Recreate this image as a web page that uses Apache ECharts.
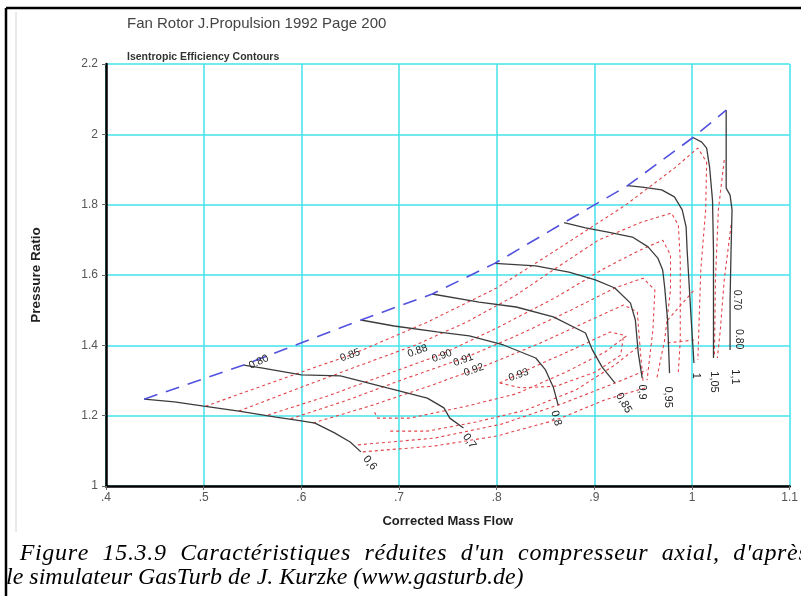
<!DOCTYPE html>
<html>
<head>
<meta charset="utf-8">
<script src="https://cdn.jsdelivr.net/npm/echarts@6/dist/echarts.min.js"></script>
<style>
html,body{margin:0;padding:0;background:#fff;}
#chart{width:801px;height:596px;}
</style>
</head>
<body>
<div id="chart"></div>
<script>
// Axis tick labels
const massFlowTicks = ['.4', '.5', '.6', '.7', '.8', '.9', '1', '1.1'];
const pressureTicks = ['1', '1.2', '1.4', '1.6', '1.8', '2', '2.2'];

// Surge line [corrected mass flow, pressure ratio]
const surgeLine = [[0.439,1.247],[0.541,1.344],[0.661,1.472],[0.734,1.546],[0.798,1.633],[0.869,1.749],[0.934,1.854],[1.001,1.991],[1.035,2.069]];

// Corrected speed lines
const speedNames = ['0,6', '0,7', '0,8', '0,85', '0,9', '0,95', '1', '1,05', '1,1'];
const speed060 = [[0.439,1.247],[0.470,1.239],[0.500,1.227],[0.536,1.213],[0.574,1.196],[0.600,1.185],[0.614,1.179],[0.634,1.151],[0.650,1.125],[0.661,1.097]];
const speed070 = [[0.541,1.344],[0.559,1.336],[0.600,1.316],[0.640,1.313],[0.688,1.279],[0.729,1.250],[0.746,1.222],[0.752,1.193],[0.766,1.165]];
const speed080 = [[0.661,1.472],[0.695,1.455],[0.739,1.438],[0.772,1.427],[0.807,1.401],[0.840,1.364],[0.850,1.330],[0.858,1.281],[0.863,1.230]];
const speed085 = [[0.734,1.546],[0.782,1.523],[0.820,1.509],[0.858,1.481],[0.891,1.435],[0.898,1.387],[0.908,1.338],[0.921,1.293]];
const speed090 = [[0.798,1.633],[0.840,1.626],[0.874,1.608],[0.901,1.586],[0.921,1.563],[0.937,1.520],[0.942,1.472],[0.945,1.378],[0.949,1.307]];
const speed095 = [[0.869,1.749],[0.891,1.734],[0.914,1.722],[0.939,1.708],[0.955,1.680],[0.965,1.648],[0.970,1.614],[0.972,1.566],[0.975,1.472],[0.977,1.321]];
const speed100 = [[0.934,1.854],[0.949,1.850],[0.969,1.842],[0.982,1.822],[0.990,1.785],[0.994,1.736],[0.995,1.671],[0.997,1.577],[0.999,1.481],[1.002,1.350]];
const speed105 = [[1.001,1.991],[1.010,1.978],[1.015,1.961],[1.018,1.907],[1.021,1.813],[1.022,1.671],[1.022,1.364]];
const speed110 = [[1.035,2.069],[1.035,1.847],[1.039,1.827],[1.041,1.785],[1.040,1.671],[1.039,1.529],[1.039,1.387]];
const speedLines = [speed060, speed070, speed080, speed085, speed090, speed095, speed100, speed105, speed110];

// Isentropic efficiency contours (upper branches turning down at the choke side)
const eff085 = [[0.502,1.227],[0.600,1.324],[0.650,1.372],[0.729,1.466],[0.800,1.563],[0.861,1.671],[0.932,1.799],[0.982,1.904],[1.006,1.961],[1.015,1.921],[1.014,1.785],[1.009,1.614],[1.007,1.444],[1.006,1.358]];
const eff088 = [[0.536,1.213],[0.600,1.281],[0.658,1.341],[0.717,1.401],[0.769,1.466],[0.820,1.543],[0.861,1.620],[0.904,1.699],[0.949,1.751],[0.979,1.776],[0.986,1.742],[0.988,1.643],[0.988,1.529],[0.988,1.415],[0.986,1.324]];
const eff090 = [[0.566,1.202],[0.627,1.256],[0.683,1.313],[0.744,1.375],[0.800,1.449],[0.861,1.537],[0.911,1.620],[0.947,1.671],[0.970,1.699],[0.978,1.657],[0.978,1.557],[0.972,1.415],[0.964,1.307]];
const eff091 = [[0.589,1.191],[0.648,1.245],[0.708,1.307],[0.767,1.364],[0.820,1.427],[0.876,1.500],[0.921,1.563],[0.950,1.591],[0.962,1.557],[0.960,1.444],[0.954,1.301]];
const eff092 = [[0.612,1.179],[0.673,1.230],[0.734,1.287],[0.790,1.344],[0.845,1.407],[0.896,1.472],[0.930,1.515],[0.944,1.495],[0.947,1.387],[0.950,1.296]];
const eff093 = [[0.803,1.293],[0.840,1.341],[0.881,1.392],[0.916,1.438],[0.930,1.429],[0.927,1.372],[0.901,1.324],[0.861,1.284],[0.825,1.279],[0.803,1.293]];
// Lower branches of the contours, toward the low-pressure end of the speed lines
const effLow1 = [[0.663,1.097],[0.737,1.114],[0.800,1.142],[0.861,1.188],[0.911,1.245],[0.952,1.279]];
const effLow2 = [[0.658,1.117],[0.736,1.136],[0.805,1.176],[0.866,1.233],[0.916,1.287],[0.954,1.330]];
const effLow3 = [[0.691,1.156],[0.729,1.156],[0.779,1.182],[0.830,1.216],[0.881,1.273],[0.921,1.344],[0.947,1.401]];
const effLow4 = [[0.675,1.210],[0.678,1.193],[0.711,1.193],[0.769,1.227],[0.820,1.262],[0.871,1.324],[0.911,1.381],[0.934,1.429]];
// Contours near choke at the highest speeds
const effMid1 = [[0.975,1.472],[1.002,1.557]];
const effMid2 = [[0.975,1.407],[1.002,1.415]];
const effChoke080 = [[1.033,1.927],[1.027,1.785],[1.024,1.586],[1.023,1.372]];
const effChoke070 = [[1.040,1.742],[1.033,1.586],[1.029,1.444],[1.026,1.364]];
const effContours = [eff085, eff088, eff090, eff091, eff092, eff093, effLow1, effLow2, effLow3, effLow4, effMid1, effMid2, effChoke080, effChoke070];

// Efficiency labels: text, line it sits on, vertex index
const effLabels = [
  ['0.80', surgeLine, 1],
  ['0.85', eff085, 2],
  ['0.88', eff088, 3],
  ['0.90', eff090, 3],
  ['0.91', eff091, 3],
  ['0.92', eff092, 3],
  ['0.93', eff093, 0],
  ['0.70', effChoke070, 1],
  ['0.80', effChoke080, 3]
];

// Figure caption
const captionLine1 = ' Figure 15.3.9 Caractéristiques réduites d\'un compresseur axial, d\'après';
const captionLine2 = 'le simulateur GasTurb de J. Kurzke (www.gasturb.de)';

const chart = echarts.init(document.getElementById('chart'));

const series = [];
effContours.forEach(function (c) {
  series.push({
    type: 'line', data: c, showSymbol: false, silent: true, z: 3,
    lineStyle: { color: '#e2434a', width: 1.1, type: [3, 3] }
  });
});
speedLines.forEach(function (s, i) {
  series.push({
    type: 'line', name: speedNames[i], data: s, showSymbol: false, silent: true, z: 4,
    lineStyle: { color: '#3c3c3c', width: 1.3 }
  });
});
series.push({
  type: 'line', data: surgeLine, showSymbol: false, silent: true, z: 5,
  lineStyle: { color: '#5252df', width: 1.6, type: [14, 9] }
});

chart.setOption({
  animation: false,
  backgroundColor: '#ffffff',
  textStyle: { fontFamily: 'Arial, "Liberation Sans", sans-serif' },
  title: [
    { text: 'Fan Rotor J.Propulsion 1992 Page 200', left: 122, top: 11, padding: 5,
      textStyle: { fontSize: 15, fontWeight: 'normal', color: '#444' } },
    { text: 'Isentropic Efficiency Contours', left: 122, top: 47, padding: 5,
      textStyle: { fontSize: 10.5, fontWeight: 'bold', color: '#333' } }
  ],
  grid: { left: 106, top: 64, right: 5, bottom: 110 },
  xAxis: {
    type: 'value', min: 0.4, max: 1.1, interval: 0.1,
    name: 'Corrected Mass Flow', nameLocation: 'middle', nameGap: 29,
    nameTextStyle: { fontSize: 13, fontWeight: 'bold', color: '#222' },
    axisLine: { show: true, lineStyle: { color: '#000', width: 2.5 } },
    axisTick: { show: true, length: 4, lineStyle: { color: '#666' } },
    axisLabel: { margin: 6, fontSize: 12, color: '#555',
      formatter: function (v) { return massFlowTicks[Math.round((v - 0.4) / 0.1)]; } },
    splitLine: { show: true, lineStyle: { color: '#43e2ea', width: 1.5 } }
  },
  yAxis: {
    type: 'value', min: 1, max: 2.2, interval: 0.2,
    name: 'Pressure Ratio', nameLocation: 'middle', nameGap: 63, nameRotate: 90,
    nameTextStyle: { fontSize: 13.5, fontWeight: 'bold', color: '#222' },
    axisLine: { show: true, lineStyle: { color: '#000', width: 2.5 } },
    axisTick: { show: true, length: 4, lineStyle: { color: '#666' } },
    axisLabel: { margin: 8, fontSize: 12, color: '#555',
      formatter: function (v) { return pressureTicks[Math.round((v - 1) / 0.2)]; } },
    splitLine: { show: true, lineStyle: { color: '#43e2ea', width: 1.5 } }
  },
  series: series
});

// Labels placed from data points through the grid's coordinate system
const toPx = function (p) { return chart.convertToPixel({ gridIndex: 0 }, p); };
const deg = Math.PI / 180;
function label(text, p, dx, dy, rotDeg, size) {
  const q = toPx(p);
  return {
    type: 'text', x: q[0] + dx, y: q[1] + dy, rotation: rotDeg * deg, z: 20, silent: true,
    style: { text: text, fill: '#222', font: size + 'px Arial, "Liberation Sans", sans-serif',
      align: 'center', verticalAlign: 'middle', textAlign: 'center', textVerticalAlign: 'middle' }
  };
}

// Speed label placement relative to each line's last point: [dx, dy, rotation]
const speedLabelPlace = [[9, 11, -50], [6, 13, -55], [-2, 13, -75], [9, 20, -60], [0, 14, -90], [-1, 24, -90], [2, 13, -90], [1, 24, -90], [5, 27, -90]];
// Efficiency label placement relative to its anchor vertex: [dx, dy, rotation]
const effLabelPlace = [[15, -3, 25], [0, 0, 20], [2, 6, 20], [0, 2, 20], [-1, 2, 20], [-13, 5, 20], [19, -8, 20], [13, 20, -90], [24, -16, -90]];

const captionFont = 'italic 24px "Liberation Serif", "DejaVu Serif", serif';

const graphics = [
  // page frame
  { type: 'line', shape: { x1: 6, y1: 8, x2: 801, y2: 8 }, style: { stroke: '#000', lineWidth: 2.5 }, silent: true },
  { type: 'line', shape: { x1: 6, y1: 8, x2: 6, y2: 596 }, style: { stroke: '#000', lineWidth: 2.5 }, silent: true },
  { type: 'line', shape: { x1: 16, y1: 12, x2: 16, y2: 532 }, style: { stroke: '#d4d4d4', lineWidth: 1 }, silent: true },
  { type: 'text', x: 6, y: 578, silent: true,
    style: { text: captionLine2, fill: '#000', font: captionFont, verticalAlign: 'middle', textVerticalAlign: 'middle' } }
];

// First caption line is justified: the extra width is shared between word gaps and letters
(function () {
  const ctx = document.createElement('canvas').getContext('2d');
  ctx.font = captionFont;
  const chars = Array.from(captionLine1);
  const startX = 13, endX = 806;
  const natural = ctx.measureText(captionLine1).width;
  const spare = endX - startX - natural;
  const gaps = chars.filter(function (c) { return c === ' '; }).length - 1;
  const perSpace = spare * 0.5 / gaps;
  const perChar = spare * 0.5 / (chars.length - 1);
  let x = startX;
  chars.forEach(function (c, i) {
    if (c !== ' ') {
      graphics.push({ type: 'text', x: x, y: 554, silent: true,
        style: { text: c, fill: '#000', font: captionFont, verticalAlign: 'middle', textVerticalAlign: 'middle' } });
    }
    x += ctx.measureText(c).width + perChar + (c === ' ' && i > 0 ? perSpace : 0);
  });
})();

speedLines.forEach(function (s, i) {
  const pl = speedLabelPlace[i];
  graphics.push(label(speedNames[i], s[s.length - 1], pl[0], pl[1], pl[2], 11));
});
effLabels.forEach(function (e, i) {
  const pl = effLabelPlace[i];
  graphics.push(label(e[0], e[1][e[2]], pl[0], pl[1], pl[2], 10.5));
});

chart.setOption({ graphic: graphics });
</script>
</body>
</html>
